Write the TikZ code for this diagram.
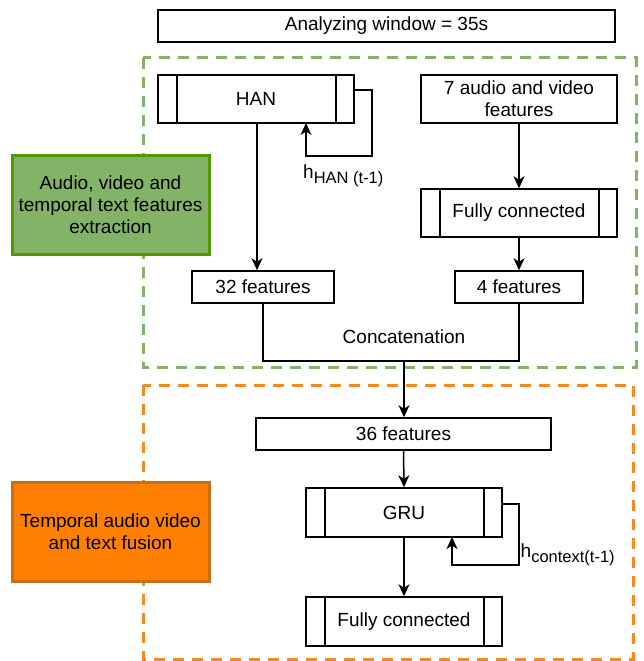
\documentclass[tikz,border=0pt]{standalone}
\usepackage{fontspec}
\setmainfont{Liberation Sans}
\usetikzlibrary{arrows.meta}
\definecolor{gdash}{HTML}{82B366}
\definecolor{gfill}{HTML}{82B366}
\definecolor{gline}{HTML}{4D9900}
\definecolor{ofill}{HTML}{FF8000}
\definecolor{oline}{HTML}{C86E14}
\definecolor{odash}{HTML}{F58A1E}
\tikzset{
  box/.style={draw=black, line width=1.5pt, fill=white, inner sep=0pt, align=center,
    font=\fontsize{19}{22}\selectfont},
  lbl/.style={font=\fontsize{19}{22}\selectfont, inner sep=0pt, align=center},
  conn/.style={line width=1.5pt, draw=black},
  arr/.style={conn, -{Stealth[length=12pt,width=11pt,inset=3.5pt]}},
  grpbox/.style={line width=3pt, dash pattern=on 11pt off 8pt},
  tagbox/.style={line width=3pt, inner sep=0pt, align=center, minimum width=197pt, minimum height=99pt,
    font=\fontsize{19}{22}\selectfont},
}
\newcommand{\sidebars}[1]{%
  \draw[conn] ([xshift=19.5pt]#1.north west) -- ([xshift=19.5pt]#1.south west);
  \draw[conn] ([xshift=-19pt]#1.north east) -- ([xshift=-19pt]#1.south east);}
\begin{document}
\begin{tikzpicture}[x=1pt,y=-1pt]
\useasboundingbox (0,0) rectangle (644,661);
% group frames
\draw[grpbox, draw=gdash] (143,58) rectangle (636,367);
\draw[grpbox, draw=odash] (143,385) rectangle (633,659);
% tags
\node[tagbox, draw=gline, fill=gfill] (tagA) at (110.5,205) {Audio, video and\\temporal text features\\extraction};
\node[tagbox, draw=oline, fill=ofill] (tagB) at (110.5,531.5) {Temporal audio video\\and text fusion};
% nodes
\node[box, minimum width=457pt, minimum height=32pt] (title) at (386.5,26) {Analyzing window = 35s};
\node[box, minimum width=196pt, minimum height=48pt] (han) at (256,99) {HAN};
\node[box, minimum width=196pt, minimum height=48pt] (seven) at (519,99) {7 audio and video\\features};
\node[box, minimum width=196pt, minimum height=48pt] (fc1) at (519,213) {Fully connected};
\node[box, minimum width=142pt, minimum height=32pt] (f32) at (263,287) {32 features};
\node[box, minimum width=128pt, minimum height=32pt] (f4) at (519,287) {4 features};
\node[box, minimum width=295pt, minimum height=32pt] (f36) at (403.5,434) {36 features};
\node[box, minimum width=196pt, minimum height=49pt] (gru) at (404,512.5) {GRU};
\node[box, minimum width=196pt, minimum height=49pt] (fc2) at (404,621.5) {Fully connected};
\sidebars{han}
\sidebars{fc1}
\sidebars{gru}
\sidebars{fc2}
% labels
\node[lbl, anchor=base west] (hhan) at (303,178) {h\raisebox{-5pt}{\fontsize{16.5}{18}\selectfont HAN (t-1)}};
\node[lbl, anchor=base west] (hctx) at (520.5,557) {h\raisebox{-5pt}{\fontsize{16.5}{18}\selectfont context(t-1)}};
\node[lbl] (concat) at (404,337) {Concatenation};
% connectors
\draw[arr] ([xshift=1pt]han.south) -- ([xshift=1pt]han.south |- f32.north);
\draw[arr] (seven.south) -- (fc1.north);
\draw[arr] (fc1.south) -- (f4.north);
\coordinate (cj) at (404,361);
\draw[conn] (f32.south) |- (cj) -| (f4.south);
\draw[arr] (cj) -- (cj |- f36.north);
\draw[arr] (f36.south) -- (gru.north);
\draw[arr] (gru.south) -- (fc2.north);
\coordinate (hanloop) at (306,156);
\coordinate (hanin) at (306,123);
\coordinate (gruloop) at (452,565);
\coordinate (gruin) at (452,537);
\draw[arr] ([yshift=9pt]han.east) -- ++(17,0) |- (hanloop) -- (hanin);
\draw[arr] ([yshift=8.5pt]gru.east) -- ++(16,0) |- (gruloop) -- (gruin);
\end{tikzpicture}
\end{document}
